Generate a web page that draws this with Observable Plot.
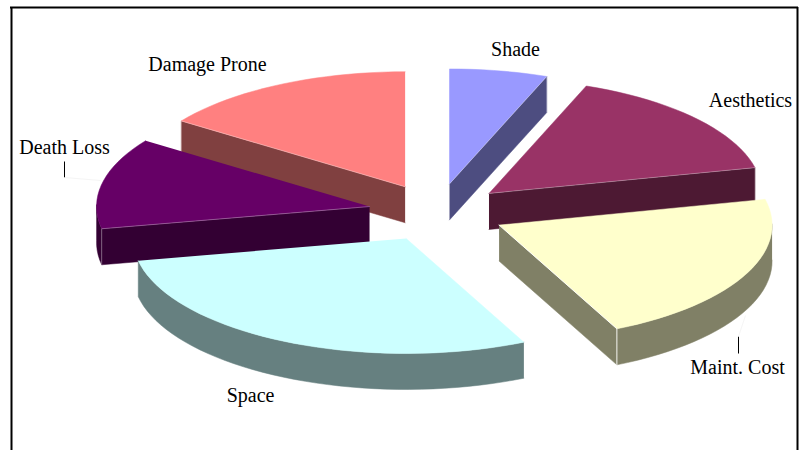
<!DOCTYPE html>
<html>
<head>
<meta charset="utf-8">
<script src="https://cdn.jsdelivr.net/npm/d3@7"></script>
<script src="https://cdn.jsdelivr.net/npm/@observablehq/plot@0.6"></script>
<style>
html,body{margin:0;padding:0;background:#fff;}
svg{display:block;}
</style>
</head>
<body>
<div id="chart"></div>
<script>
// Data: clockwise from 12 o'clock, shares in percent
const categories = ["Shade", "Aesthetics", "Maint. Cost", "Space", "Death Loss", "Damage Prone"];
const shares = [5.8, 15.6, 21.5, 29.0, 12.8, 15.3];
const topColors = ["#9999ff", "#993366", "#ffffcc", "#ccffff", "#660066", "#ff8080"];
const sideColors = ["#4d4d80", "#4d1933", "#808066", "#668080", "#330033", "#804040"];

// Layout
const cx = 436.5, cy = 212, rx = 273, ry = 115, depth = 36, explode = 0.2525;
const paintOrder = ["Shade", "Damage Prone", "Aesthetics", "Death Loss", "Maint. Cost", "Space"];
const labelX = [515, 750, 737, 250, 64, 207];
const labelY = [49, 100, 367, 395, 147, 64];
const leaders = [[64, 161, 64, 177, "#000"], [738, 336, 738, 353, "#000"], [64, 177, 100, 180, "#f5f5f5"], [738, 336, 745, 315, "#f5f5f5"]];

const total = d3.sum(shares);
const cum = d3.cumsum(shares);
const slices = categories.map((name, i) => {
  const a0 = (cum[i] - shares[i]) / total * 2 * Math.PI;
  const a1 = cum[i] / total * 2 * Math.PI;
  const mid = (a0 + a1) / 2;
  const ox = cx + explode * rx * Math.sin(mid);
  const oy = cy - explode * ry * Math.cos(mid);
  const n = Math.max(2, Math.ceil((a1 - a0) / (2.5 * Math.PI / 180)));
  const rim = d3.range(n + 1).map(k => {
    const t = a0 + (a1 - a0) * k / n;
    return {x: ox + rx * Math.sin(t), y: oy - ry * Math.cos(t), t};
  });
  return {name, ox, oy, a0, a1, rim, top: topColors[i], side: sideColors[i]};
});

const down = p => ({x: p.x, y: p.y + depth});

function visibleRadials(s) {
  const out = [];
  if (Math.sin(s.a0) < -1e-6) out.push(s.rim[0]);
  if (Math.sin(s.a1) > 1e-6) out.push(s.rim[s.rim.length - 1]);
  return out;
}

function wallRows(s) {
  const apex = {x: s.ox, y: s.oy};
  const rows = [];
  visibleRadials(s).forEach((p, j) => {
    for (const q of [apex, p, down(p), down(apex)]) rows.push({x: q.x, y: q.y, id: "r" + j});
  });
  const front = s.rim.filter(p => Math.cos(p.t) <= 0.03);
  if (front.length > 1) {
    for (const q of [...front, ...front.slice().reverse().map(down)]) rows.push({x: q.x, y: q.y, id: "rim"});
  }
  return rows;
}

function edgeRows(s) {
  const apex = {x: s.ox, y: s.oy};
  const rows = [];
  visibleRadials(s).forEach((p, j) => {
    for (const q of [apex, p, down(p)]) rows.push({x: q.x, y: q.y, id: "e" + j});
  });
  return rows;
}

const marks = [];
for (const name of paintOrder) {
  const s = slices.find(d => d.name === name);
  marks.push(Plot.line(wallRows(s), {x: "x", y: "y", z: "id", fill: s.side, stroke: s.side, strokeWidth: 0.5}));
  marks.push(Plot.line([{x: s.ox, y: s.oy}, ...s.rim], {x: "x", y: "y", fill: s.top, stroke: s.top, strokeWidth: 0.5}));
  marks.push(Plot.line(edgeRows(s), {x: "x", y: "y", z: "id", stroke: "#fff", strokeOpacity: name === "Maint. Cost" ? 0.9 : 0.3, strokeWidth: 1}));
}

const labels = categories.map((name, i) => ({name, x: labelX[i], y: labelY[i]}));

const chart = Plot.plot({
  width: 799,
  height: 450,
  margin: 0,
  style: {background: "#fff"},
  x: {domain: [0, 799], axis: null},
  y: {domain: [450, 0], axis: null},
  marks: [
    ...marks,
    Plot.link(leaders, {x1: d => d[0], y1: d => d[1], x2: d => d[2], y2: d => d[3], stroke: d => d[4], strokeWidth: 1}),
    Plot.text(labels, {x: "x", y: "y", text: "name", fontFamily: "Liberation Serif", fontSize: 20, fill: "#000"}),
    Plot.ruleX([11, 797], {y1: 7, y2: 450, stroke: "#000", strokeWidth: 2}),
    Plot.ruleY([7], {x1: 10, x2: 798, stroke: "#000", strokeWidth: 2})
  ]
});
document.getElementById("chart").appendChild(chart);
</script>
</body>
</html>
